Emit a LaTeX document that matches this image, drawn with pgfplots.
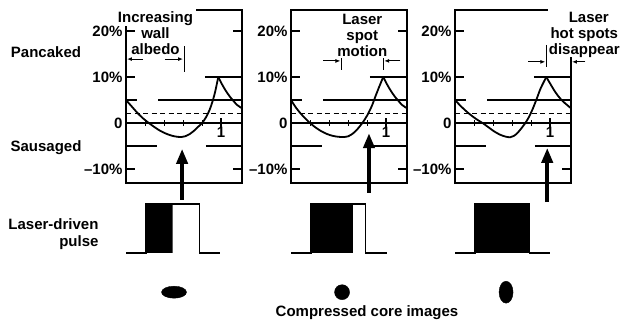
\documentclass[border=0pt]{standalone}
\usepackage{fontspec}
\setmainfont{Liberation Sans}
\usepackage{pgfplots}
\pgfplotsset{compat=1.18}
\usetikzlibrary{arrows.meta}

\newcommand\lbl{\fontsize{15}{16}\selectfont\bfseries}

\tikzset{note/.style={align=center, inner sep=0pt, font=\fontsize{15}{16}\selectfont\bfseries}}

\pgfplotsset{
  panel/.style={
    scale only axis, width=116pt, height=173pt, anchor=south west,
    xmin=0, xmax=1.22, ymin=-13.04, ymax=24.57,
    xtick=\empty,
    ytick={-10,0,10,20},
    yticklabels={--10\%,0,10\%,20\%},
    tick align=inside,
    major tick length=9pt,
    every tick/.style={black, line width=1.2pt},
    axis line style={line width=1.3pt},
    tick label style={font=\lbl},
    clip=false,
  },
  pulse/.style={
    scale only axis, width=116pt, height=49pt, anchor=south west,
    xmin=0, xmax=1.22, ymin=0, ymax=1,
    axis lines=none, clip=false,
  },
  curve/.style={black, line width=1.8pt, no marks, smooth},
  ref/.style={black, line width=1.2pt, no marks},
}

% reference lines common to the three panels
\newcommand\refs{
  \addplot[ref] coordinates {(0,0) (1.22,0)};
  \addplot[ref, dash pattern=on 5pt off 3.5pt] coordinates {(0,2) (1.22,2)};
  \addplot[ref] coordinates {(0,5) (0.12,5)};
  \addplot[ref] coordinates {(0.34,5) (1.22,5)};
  \addplot[ref] coordinates {(0,-5) (0.33,-5)};
  \addplot[ref] coordinates {(0.84,-5) (1.22,-5)};
  \addplot[ref] coordinates {(0.83,10) (1.22,10)};
  \addplot[only marks, mark=|, mark size=3pt, mark options={line width=1pt}]
    coordinates {(0.2,0) (0.4,0) (0.6,0) (0.8,0)};
  \addplot[only marks, mark=|, mark size=5pt, mark options={line width=1.2pt}]
    coordinates {(1,0)};
  \node[anchor=north, inner sep=0pt] at (axis cs:1,-0.9) {1};
}

\begin{document}
\begin{tikzpicture}[font=\lbl]
\useasboundingbox (0,0) rectangle (623pt,328pt);

% ---------------- panel 1
\begin{axis}[panel, at={(126pt,145pt)}]
  \refs
  \addplot[curve] coordinates {
    (0,5) (0.06,3.6) (0.12,2.2) (0.18,1.0) (0.24,0) (0.30,-0.9) (0.36,-1.7)
    (0.42,-2.3) (0.48,-2.75) (0.54,-3.0) (0.58,-3.05) (0.62,-2.9) (0.67,-2.4)
    (0.72,-1.6) (0.76,-0.8) (0.80,0) (0.84,1.2) (0.88,2.9) (0.91,4.7)
    (0.94,7.0) (0.97,10)};
  \addplot[curve] coordinates {
    (0.97,10) (1.01,8.4) (1.05,7.0) (1.09,5.8) (1.13,4.8) (1.17,3.9) (1.22,3.2)};
  \fill[white] (axis cs:-0.09,21.1) rectangle (axis cs:0.74,25.6);
  \node[note] at (axis cs:0.31,19.5) {Increasing\\wall\\albedo};
  \draw[line width=1pt] (axis cs:0.61,16.7) -- (axis cs:0.61,11.1);
  \draw[line width=1pt, -{Latex[length=5pt,width=4pt]}] (axis cs:0.18,13.9) -- (axis cs:0.01,13.9);
  \draw[line width=1pt, -{Latex[length=5pt,width=4pt]}] (axis cs:0.41,13.9) -- (axis cs:0.60,13.9);
  \draw[line width=4pt, -{Triangle[length=15pt,width=11pt]}] (axis cs:0.59,-16.7) -- (axis cs:0.59,-5.6);
\end{axis}
\begin{axis}[pulse, at={(126pt,75pt)}]
  \addplot[fill=black, draw=none] coordinates {(0.21,0) (0.21,1) (0.49,1) (0.49,0)} \closedcycle;
  \addplot[ref, line width=1.3pt] coordinates {(0,0) (0.21,0) (0.21,1) (0.77,1) (0.77,0) (0.99,0)};
  \addplot[only marks, mark=*, mark size=1pt, mark options={fill=black, draw=none, xscale=12.5, yscale=6}]
    coordinates {(0.505,-0.8)};
\end{axis}

% ---------------- panel 2
\begin{axis}[panel, at={(291pt,145pt)}]
  \refs
  \addplot[curve] coordinates {
    (0,5) (0.05,3.4) (0.10,2.1) (0.15,1.0) (0.20,0) (0.26,-1.0) (0.32,-1.8)
    (0.38,-2.4) (0.44,-2.8) (0.50,-3.0) (0.56,-3.05) (0.60,-2.9) (0.65,-2.3)
    (0.70,-1.3) (0.75,0) (0.80,1.6) (0.85,3.7) (0.89,5.9) (0.93,8.0) (0.97,10)};
  \addplot[curve] coordinates {
    (0.97,10) (1.01,8.4) (1.05,7.0) (1.09,5.8) (1.13,4.8) (1.17,3.9) (1.22,3.2)};
  \node[note] at (axis cs:0.75,19.0) {Laser\\spot\\motion};
  \draw[line width=1pt] (axis cs:0.53,14.1) -- (axis cs:0.53,11.5);
  \draw[line width=1pt] (axis cs:0.97,14.1) -- (axis cs:0.97,11.5);
  \draw[line width=1pt, -{Latex[length=5pt,width=4pt]}] (axis cs:0.34,13.5) -- (axis cs:0.52,13.5);
  \draw[line width=1pt, -{Latex[length=5pt,width=4pt]}] (axis cs:1.15,13.5) -- (axis cs:0.98,13.5);
  \draw[line width=4pt, -{Triangle[length=15pt,width=11pt]}] (axis cs:0.82,-15.2) -- (axis cs:0.82,-2.2);
\end{axis}
\begin{axis}[pulse, at={(291pt,75pt)}]
  \addplot[fill=black, draw=none] coordinates {(0.21,0) (0.21,1) (0.65,1) (0.65,0)} \closedcycle;
  \addplot[ref, line width=1.3pt] coordinates {(0,0) (0.21,0) (0.21,1) (0.78,1) (0.78,0) (1.01,0)};
  \addplot[only marks, mark=*, mark size=1pt, mark options={fill=black, draw=none, xscale=7.5, yscale=7.5}]
    coordinates {(0.537,-0.8)};
\end{axis}

% ---------------- panel 3
\begin{axis}[panel, at={(455pt,145pt)}]
  \refs
  \addplot[curve] coordinates {
    (0,5) (0.05,3.9) (0.10,2.9) (0.15,2.0) (0.20,1.2) (0.25,0.5) (0.29,0)
    (0.35,-0.9) (0.41,-1.8) (0.47,-2.5) (0.53,-2.95) (0.58,-3.1) (0.62,-2.8)
    (0.66,-2.1) (0.70,-1.1) (0.74,0) (0.78,1.4) (0.82,3.2) (0.86,5.3)
    (0.90,7.5) (0.96,10)};
  \addplot[curve] coordinates {
    (0.96,10) (1.0,8.6) (1.04,7.2) (1.08,6.0) (1.13,4.8) (1.18,3.9) (1.22,3.2)};
  \fill[white] (axis cs:0.975,14.4) rectangle (axis cs:1.36,26);
  \node[note] at (axis cs:1.36,19.2) {\hspace*{0.6em}Laser\\hot spots\\disappear};
  \draw[line width=1pt] (axis cs:0.96,17.0) -- (axis cs:0.96,12.2);
  \draw[line width=1pt, -{Latex[length=5pt,width=4pt]}] (axis cs:0.77,13.3) -- (axis cs:0.95,13.3);
  \draw[line width=1pt, -{Latex[length=5pt,width=4pt]}] (axis cs:1.37,13.3) -- (axis cs:1.23,13.3);
  \draw[line width=4pt, -{Triangle[length=15pt,width=11pt]}] (axis cs:0.97,-17.2) -- (axis cs:0.97,-5.4);
\end{axis}
\begin{axis}[pulse, at={(455pt,75pt)}]
  \addplot[fill=black, draw=none] coordinates {(0.21,0) (0.21,1) (0.78,1) (0.78,0)} \closedcycle;
  \addplot[ref, line width=1.3pt] coordinates {(0,0) (0.21,0) (0.21,1) (0.78,1) (0.78,0) (1.0,0)};
  \addplot[only marks, mark=*, mark size=1pt, mark options={fill=black, draw=none, xscale=7, yscale=11}]
    coordinates {(0.537,-0.8)};
\end{axis}

% ---------------- side and bottom labels
\node at (46pt,276pt) {Pancaked};
\node at (46pt,180pt) {Sausaged};
\node[anchor=east] at (102pt,104pt) {Laser-driven};
\node[anchor=east] at (102pt,85.5pt) {pulse};
\node at (367pt,15pt) {Compressed core images};
\end{tikzpicture}
\end{document}
